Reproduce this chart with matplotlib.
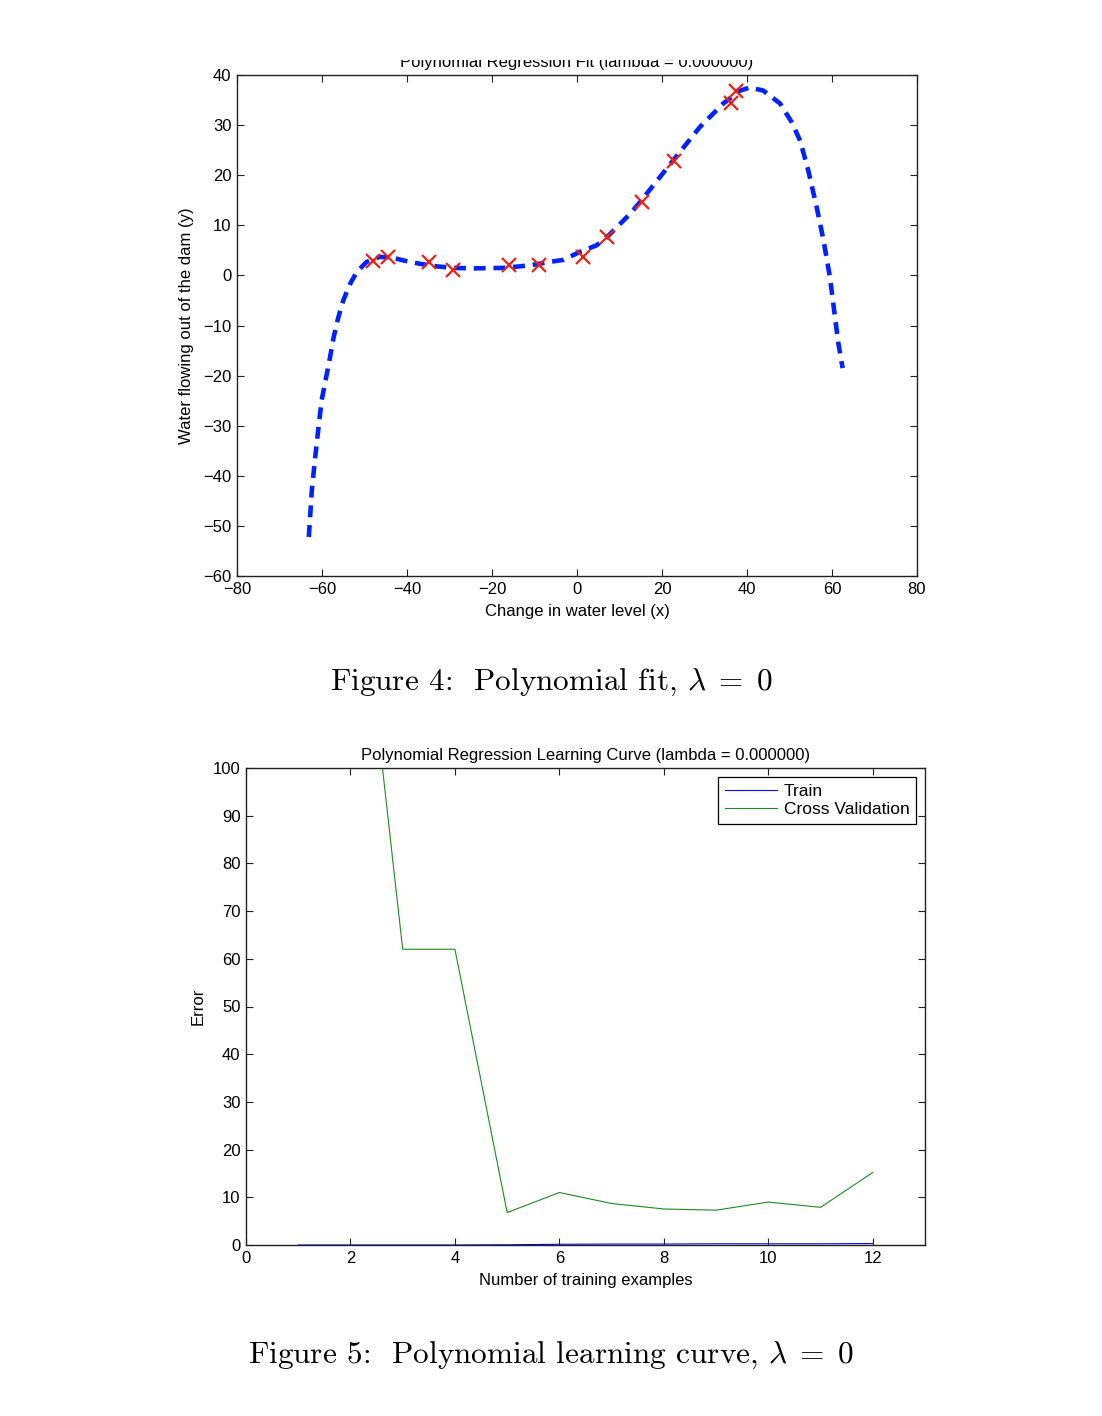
import matplotlib
matplotlib.use("Agg")
import matplotlib.pyplot as plt
from matplotlib.patches import Rectangle

# data points (change in water level vs water flowing out)
x_data = [-15.94, -29.15, 36.19, 37.49, -48.06, -8.94, 15.31, -34.71, 1.39, -44.38, 7.01, 22.76]
y_data = [2.13, 1.17, 34.36, 36.84, 2.81, 2.12, 14.71, 2.61, 3.74, 3.73, 7.63, 22.75]

# fitted curve
fit_x = [-63.1, -62.4, -61.6, -60.9, -60.1, -58.9, -58.1, -57.3, -56.2, -55.0,
         -53.4, -51.8, -49.5, -46.4, -43.2, -40.9, -36.9, -33.0, -29.1, -24.4,
         -17.3, -11.1, -6.4, -3.2, 0.7, 4.6, 7.0, 12.5, 14.8, 22.3,
         28.9, 34.4, 38.4, 40.7, 43.8, 47.8, 50.5, 52.5, 54.4, 56.4,
         58.0, 59.5, 60.7, 61.5, 62.5]
fit_y = [-52.2, -42.9, -36.3, -30.9, -25.0, -19.8, -16.3, -12.5, -8.5, -5.0,
         -1.7, 0.7, 2.7, 3.7, 3.5, 3.0, 2.3, 1.8, 1.5, 1.4,
         1.5, 2.0, 2.7, 3.1, 4.7, 6.0, 7.6, 12.3, 14.6, 22.6,
         29.6, 34.3, 36.9, 37.5, 36.9, 34.3, 30.6, 26.9, 21.0, 13.6,
         7.0, -0.3, -8.3, -13.6, -18.5]

# learning curve
n_examples = [1, 2, 3, 4, 5, 6, 7, 8, 9, 10, 11, 12]
train_err = [0, 0, 0, 0, 0.05, 0.15, 0.2, 0.2, 0.25, 0.25, 0.25, 0.3]
cv_err = [160.7, 160.1, 62.0, 62.0, 6.8, 11.0, 8.7, 7.55, 7.3, 9.0, 7.9, 15.2]

plt.rcParams['font.family'] = ['Liberation Sans', 'DejaVu Sans']
plt.rcParams['mathtext.fontset'] = 'cm'

fig = plt.figure(figsize=(11.02, 14.16), dpi=100)


def matlab_axes(ax):
    for s in ax.spines.values():
        s.set_linewidth(1.0)
        s.set_color('#222222')
    ax.tick_params(direction='in', length=5, width=0.8, top=True, right=True,
                   labelsize=12, colors='#222222', labelcolor='black', pad=4)


# ---- Figure 4 ----
ax1 = fig.add_axes([237 / 1102, 1 - 576 / 1416, 680 / 1102, 501 / 1416])
ax1.plot(fit_x, fit_y, color='#0022ff', linewidth=3.3, dashes=(2.6, 1.7))
ax1.plot(x_data, y_data, 'x', color='#ee2211', markersize=9.5, markeredgewidth=1.6)
ax1.set_xlim(-80, 80)
ax1.set_ylim(-60, 40)
ax1.set_xticks(range(-80, 81, 20))
ax1.set_yticks(range(-60, 41, 10))
matlab_axes(ax1)
ax1.set_title('Polynomial Regression Fit (lambda = 0.000000)', fontsize=12, pad=6)
ax1.set_xlabel('Change in water level (x)', fontsize=12)
ax1.set_ylabel('Water flowing out of the dam (y)', fontsize=12)
ax1.xaxis.set_label_coords(0.5, -0.056)
ax1.yaxis.set_label_coords(-0.063, 0.5)

# the page crops the top of the first title
fig.add_artist(Rectangle((0, 1 - 60 / 1416), 1, 60 / 1416, transform=fig.transFigure,
                         facecolor='white', edgecolor='none', zorder=10))

fig.text(0.5, 1 - 682 / 1416, r'Figure 4:  Polynomial fit, $\lambda\;=\;0$',
         family='cmr10', fontsize=22.5, ha='center', va='center')

# ---- Figure 5 ----
ax2 = fig.add_axes([246 / 1102, 1 - 1245 / 1416, 679 / 1102, 477 / 1416])
ax2.plot(n_examples, train_err, color='#0000ff', linewidth=0.8, label='Train')
ax2.plot(n_examples, cv_err, color='#1f8a1f', linewidth=0.8, label='Cross Validation')
ax2.set_xlim(0, 13)
ax2.set_ylim(0, 100)
ax2.set_xticks(range(0, 13, 2))
ax2.set_yticks(range(0, 101, 10))
matlab_axes(ax2)
ax2.set_title('Polynomial Regression Learning Curve (lambda = 0.000000)', fontsize=12, pad=6)
ax2.set_xlabel('Number of training examples', fontsize=12)
ax2.set_ylabel('Error', fontsize=12)
ax2.xaxis.set_label_coords(0.5, -0.059)
ax2.yaxis.set_label_coords(-0.060, 0.5)
leg = ax2.legend(loc='upper right', fontsize=12.5, fancybox=False, framealpha=1,
                 edgecolor='black', borderaxespad=0.5, handlelength=3.0,
                 borderpad=0.4, labelspacing=0.2, handletextpad=0.4)
leg.get_frame().set_linewidth(0.9)

fig.text(0.5, 1 - 1355 / 1416, r'Figure 5:  Polynomial learning curve, $\lambda\;=\;0$',
         family='cmr10', fontsize=22.5, ha='center', va='center')

fig.savefig('out.png', dpi=100)
